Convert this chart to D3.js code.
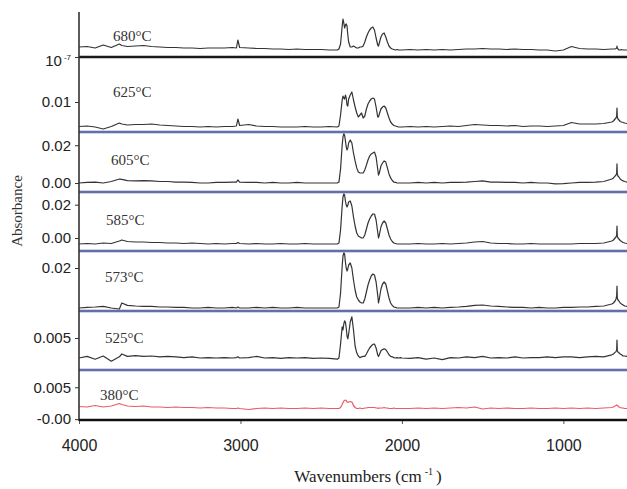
<!DOCTYPE html>
<html>
<head>
<meta charset="utf-8">
<script src="https://cdn.jsdelivr.net/npm/d3@7"></script>
<style>
  html, body { margin: 0; padding: 0; background: #ffffff; }
  svg { display: block; }
</style>
</head>
<body>
<svg id="chart" width="627" height="489"></svg>
<script>
// FTIR spectra of the evolved gas at several temperatures.
// Absorbance values are stored in milli-absorbance units (1 = 0.001).

const wavenumbers = [
  4000,3950,3900,3850,3800,3750,3735,3700,3650,3600,
  3550,3500,3450,3400,3350,3300,3250,3200,3150,3100,
  3050,3025,3016,3005,2950,2900,2850,2800,2750,2700,
  2650,2600,2550,2500,2450,
  2400,2390,2380,2370,2365,2360,2355,2350,2345,2340,
  2335,2330,2320,2310,2300,2290,2280,2270,2260,2250,
  2240,2230,2220,2210,2200,2190,2180,2170,2160,2150,
  2145,2140,2130,2120,2110,2100,2090,2080,2070,2060,
  2050,2040,2030,2020,2010,
  2000,1950,1900,1850,1800,1750,1700,1650,1600,1550,
  1500,1450,1400,1350,1300,1250,1200,1150,1100,1050,
  1000,950,900,850,800,750,700,
  690,680,674,670,668,666,662,656,648,640,
  630,620,606
];

const mA680 = [
  4.0,4.2,3.6,4.8,3.8,5.2,4.6,4.2,4.4,4.6, 4.2,4.0,3.8,3.8,3.6,3.6,3.4,3.6,3.6,3.6,
  3.8,3.6,6.8,3.8,3.6,3.4,3.4,3.2,3.2,3.0, 3.2,3.0,3.0,3.0,2.8,
  2.8,3.2,5.2,12.4,15.2,13.6,11.6,12.8,13.2,12.4, 8.8,6.0,4.0,4.0,4.4,4.0,3.6,3.6,4.0,4.0,
  4.4,6.0,8.0,9.6,10.8,11.6,12.0,10.8,7.6,4.8, 4.4,5.6,8.0,9.2,9.6,8.0,6.0,4.4,3.6,3.2,
  3.0,2.8,3.0,2.8,2.8,
  2.8,3.0,2.8,3.0,2.8,3.0,2.8,3.0,3.2,3.2, 3.4,3.2,3.2,3.0,3.2,3.0,3.0,2.8,2.8,2.4,
  2.8,4.2,3.4,3.2,3.2,3.0,3.2,
  3.2,3.2,3.4,3.6,4.4,3.6,3.2,2.8,2.8,3.0, 2.8,2.8,2.8
];

const mA625 = [
  0.2,0.4,0,-0.8,0.2,1.6,1.2,0.8,1.0,1.0, 1.2,0.8,0.6,0.4,0.2,0.2,0,0.2,0,0.2,
  0.2,0.4,3.2,0.6,1.0,0.4,0.2,0.2,0,0, 0,0.2,0,0,0.2,
  0,0.4,4.8,10.8,12.4,11.6,11.2,12.8,11.6,8.8, 8.4,11.2,12.8,14.0,10.8,8.0,5.6,4.0,4.8,5.6,
  3.6,4.4,7.2,9.2,10.4,11.2,11.6,11.2,8.0,4.0, 4.0,5.2,7.2,8.0,8.4,7.6,5.6,3.6,2.0,1.2,
  0.6,0.4,0.2,0,0,
  0,0.2,0,0.2,0,0.2,0.4,0.2,0.6,1.0, 0.8,0.6,0.6,0.4,0.6,0.2,0.4,0.4,0.2,0.4,
  0.6,1.8,1.2,1.2,1.2,1.4,2.0,
  2.4,3.2,3.6,4.4,7.6,4.0,3.2,2.8,2.2,2.0, 1.8,1.6,1.4
];

const mA605 = [
  0,0.3,0.5,0,0.8,2.1,1.9,1.3,1.1,1.3, 1.1,0.8,0.8,0.5,0.5,0.3,0,0,0.3,0.3,
  0.5,0.5,1.6,0.5,0.3,0.3,0,0.3,0,0, 0.3,0,0,0,0,
  0,0.5,7.4,20.1,24.4,26.0,25.4,22.3,19.1,17.5, 18.6,21.2,22.8,21.2,15.9,11.7,8.0,5.8,5.3,5.3,
  5.3,6.9,9.5,12.2,14.3,15.4,15.9,16.4,13.8,7.4, 4.2,5.3,9.0,10.6,11.7,11.1,8.0,4.8,2.7,1.3,
  0.5,0.3,0,0,0,
  0,0,0.3,0,0.3,0,0.3,0.3,0.5,0.8, 1.1,0.5,0.5,0.3,0.3,0,0.3,0,0,-0.5,
  -0.3,0,0.3,0.3,0.5,0.8,2.1,
  2.7,3.7,4.2,5.3,10.1,4.8,3.7,3.2,2.1,1.6, 1.1,0.8,0.5
];

const mA585 = [
  -3.6,-3.3,-3.6,-3.0,-3.3,-1.8,-1.2,-2.1,-2.4,-2.4, -2.7,-2.7,-3.0,-3.0,-3.3,-3.0,-3.3,-3.6,-3.3,-3.6,
  -3.3,-3.3,-2.7,-3.3,-3.6,-3.3,-3.6,-3.6,-3.3,-3.6, -3.6,-3.3,-3.6,-3.6,-3.6,
  -3.6,-3.0,4.8,19.2,24.6,26.4,25.8,22.2,19.8,18.6, 19.8,21.6,22.2,19.2,12.6,7.2,3.0,1.2,0.6,0,
  0,1.8,5.4,9.0,11.4,13.2,14.4,14.4,10.8,3.6, 0,1.8,6.6,9.0,10.2,9.0,5.4,1.8,-0.6,-2.1,
  -3.0,-3.3,-3.6,-3.6,-3.6,
  -3.6,-3.6,-3.3,-3.6,-3.6,-3.3,-3.6,-3.3,-3.0,-2.4, -2.1,-3.0,-3.3,-3.3,-3.6,-3.6,-3.3,-3.6,-3.6,-3.6,
  -3.6,-3.6,-3.3,-3.3,-3.3,-3.0,-1.8,
  -1.2,0,0.6,1.8,7.2,1.2,0,-0.6,-1.5,-2.1, -2.7,-3.0,-3.3
];

const mA573 = [
  0,0.3,0.5,0.8,0,-0.5,2.5,1.3,1.0,0.8, 0.8,0.5,0.5,0.3,0.3,0,0,0.3,0,0,
  0.3,0,0.5,0,0,0.3,0,0.3,0,0, 0.3,0,0,0,0,
  0,0.5,7.5,21.0,26.0,27.5,27.0,23.0,20.0,18.5, 19.5,21.5,22.5,20.0,14.0,9.0,5.5,4.0,3.0,2.5,
  2.5,4.5,8.0,11.5,14.0,16.0,17.0,16.5,13.0,6.5, 2.5,4.5,9.5,12.0,13.0,12.0,8.5,5.0,2.5,1.3,
  0.5,0.3,0,0,0,
  0,0,0.3,0,0.3,0,0.3,0.5,0.8,1.3, 1.5,1.0,0.8,0.5,0.3,0.3,0,0.3,0,0,
  0.3,0.3,0.5,0.5,0.8,1.0,2.0,
  2.5,3.5,4.5,6.0,11.0,5.0,4.0,3.5,2.5,2.0, 1.5,1.0,0.8
];

const mA525 = [
  0,0.4,-0.3,0.5,-0.8,0.3,1.0,0.4,0.6,0.4, 0.5,0.3,0.4,0.3,0.1,0.3,0,0.1,0,0.1,
  0,0.1,0.3,0,0.1,0.4,0,0.1,-0.1,0.1, 0,0.1,-0.1,0,-0.1,
  -0.3,0,3.5,7.8,7.0,8.5,9.3,9.0,7.5,5.5, 4.8,6.0,9.0,10.3,7.0,3.0,1.3,0.5,0.1,0.3,
  0.4,0.4,1.0,1.8,2.5,3.0,3.4,3.5,2.5,0.8, 0.4,0.8,1.8,2.1,2.3,2.1,1.5,0.8,0.4,0.3,
  0.1,0,0.1,0,0.1,
  0,-0.1,0.1,-0.3,0,-0.4,0.1,0,0.3,0.1, 0.4,0,0.1,0,0.3,0,0.1,0.1,0.3,0.1,
  0.3,0.3,0.1,0.3,0.4,0.3,0.8,
  1.0,1.4,1.6,2.0,4.5,1.8,1.5,1.3,1.0,0.8, 0.5,0.5,0.4
];

const mA380 = [
  1.92,1.84,2.08,1.84,2.0,2.4,2.24,2.0,1.92,2.0, 1.84,1.84,1.76,1.84,1.76,1.76,1.68,1.76,1.68,1.68,
  1.6,1.6,1.68,1.6,1.44,1.6,1.68,1.6,1.68,1.6, 1.6,1.68,1.6,1.68,1.6,
  1.6,1.6,1.76,2.24,2.56,2.8,2.88,2.96,2.88,2.64, 2.56,2.64,2.72,2.64,2.08,1.76,1.6,1.6,1.68,1.6,
  1.6,1.68,1.68,1.76,1.76,1.76,1.76,1.76,1.68,1.68, 1.6,1.68,1.68,1.68,1.76,1.68,1.68,1.6,1.6,1.6,
  1.68,1.6,1.6,1.6,1.6,
  1.6,1.6,1.68,1.6,1.68,1.6,1.68,1.76,1.68,1.84, 1.52,1.68,1.6,1.68,1.6,1.6,1.68,1.6,1.6,1.68,
  1.6,1.68,1.6,1.68,1.6,1.68,1.76,
  1.84,2.0,2.08,2.16,2.16,2.08,2.0,1.84,1.76,1.68, 1.68,1.6,1.6
];

const temperatures = ["680°C", "625°C", "605°C", "585°C", "573°C", "525°C", "380°C"];

// y tick values (milli-absorbance) and their printed labels, one list per panel
const yTicks680 = [0.0001], yTickLabels680 = ["10^-7"];
const yTicks625 = [10],     yTickLabels625 = ["0.01"];
const yTicks605 = [0, 20],  yTickLabels605 = ["0.00", "0.02"];
const yTicks585 = [0, 20],  yTickLabels585 = ["0.00", "0.02"];
const yTicks573 = [20],     yTickLabels573 = ["0.02"];
const yTicks525 = [5],      yTickLabels525 = ["0.005"];
const yTicks380 = [-0.1, 5], yTickLabels380 = ["-0.00", "0.005"];

const xTicks = [4000, 3000, 2000, 1000];

// ---------------------------------------------------------------- layout
const left = 79, right = 627;
const svg = d3.select("#chart");

const x = d3.scaleLinear().domain([4000, 606]).range([left, right]);

const panels = [
  { name: temperatures[0], values: mA680, top: 12,  bottom: 57,  domain: [0, 18],        ticks: yTicks680, labels: yTickLabels680, color: "#333333", lx: 113, ly: 41 },
  { name: temperatures[1], values: mA625, top: 57,  bottom: 132, domain: [-2, 28],       ticks: yTicks625, labels: yTickLabels625, color: "#333333", lx: 113, ly: 97 },
  { name: temperatures[2], values: mA605, top: 132, bottom: 192, domain: [-4.77, 27.03], ticks: yTicks605, labels: yTickLabels605, color: "#333333", lx: 111, ly: 165 },
  { name: temperatures[3], values: mA585, top: 192, bottom: 251, domain: [-7.8, 27.6],   ticks: yTicks585, labels: yTickLabels585, color: "#333333", lx: 106, ly: 225 },
  { name: temperatures[4], values: mA573, top: 251, bottom: 311, domain: [-1.5, 28.5],   ticks: yTicks573, labels: yTickLabels573, color: "#333333", lx: 105, ly: 282 },
  { name: temperatures[5], values: mA525, top: 311, bottom: 370, domain: [-3, 11.75],    ticks: yTicks525, labels: yTickLabels525, color: "#333333", lx: 105, ly: 343 },
  { name: temperatures[6], values: mA380, top: 370, bottom: 420, domain: [-0.24, 7.76],  ticks: yTicks380, labels: yTickLabels380, color: "#ec5a62", lx: 100, ly: 400 }
];

panels.forEach(p => {
  if (p.values.length !== wavenumbers.length) throw new Error(p.name + " length " + p.values.length);
});

const sansFont = "'Liberation Sans', Arial, sans-serif";
const serifFont = "'Liberation Serif', 'Times New Roman', serif";

// separators between stacked panels
panels.slice(0, -1).forEach((p, i) => {
  const sep = (stroke, width) => svg.append("line")
    .attr("x1", left).attr("x2", right).attr("y1", p.bottom).attr("y2", p.bottom)
    .attr("stroke", stroke).attr("stroke-width", width);
  if (i === 0) {
    sep("#8a8a8a", 3.2);
    sep("#1a1a1a", 1.8);
  } else {
    sep("#a3aad0", 3);
    sep("#4f5b9c", 1.4);
  }
});

panels.forEach(p => {
  const y = d3.scaleLinear().domain(p.domain).range([p.bottom, p.top]);
  const line = d3.line()
    .x((d, i) => x(wavenumbers[i]))
    .y(d => y(d))
    .curve(d3.curveLinear);

  svg.append("path")
    .datum(p.values)
    .attr("d", line)
    .attr("fill", "none")
    .attr("stroke", p.color)
    .attr("stroke-width", 1.2)
    .attr("stroke-linejoin", "round");

  // y axis for this panel
  const ax = svg.append("g")
    .attr("transform", `translate(${left},0)`)
    .call(d3.axisLeft(y).tickValues(p.ticks).tickSize(4).tickPadding(4).tickFormat((d, i) => p.labels[i]));
  ax.select(".domain").remove();
  ax.selectAll(".tick line").attr("stroke", "#333");
  ax.selectAll(".tick text")
    .attr("font-family", sansFont)
    .attr("font-size", 15)
    .attr("fill", "#222")
    .each(function(d, i) {
      const lab = p.labels[i];
      if (lab.includes("^")) {
        const [base, exp] = lab.split("^");
        const t = d3.select(this).text(null).attr("dy", "0.55em");
        t.append("tspan").text(base);
        t.append("tspan").attr("dy", "-0.75em").attr("dx", "2").attr("font-size", 8).text(exp);
      }
    });

  // temperature label
  svg.append("text")
    .attr("x", p.lx).attr("y", p.ly)
    .attr("font-family", serifFont)
    .attr("font-size", 15)
    .attr("fill", "#333")
    .text(p.name);
});

// left axis line
svg.append("line").attr("x1", left).attr("x2", left).attr("y1", 12).attr("y2", 421)
  .attr("stroke", "#333").attr("stroke-width", 1.6);

// bottom axis
const xAxis = svg.append("g")
  .attr("transform", "translate(0,421)")
  .call(d3.axisBottom(x).tickValues(xTicks).tickSize(3).tickPadding(16).tickFormat(d3.format("d")));
xAxis.select(".domain").remove();
xAxis.selectAll(".tick line").attr("stroke", "#555");
xAxis.selectAll(".tick text")
  .attr("font-family", sansFont)
  .attr("font-size", 16)
  .attr("fill", "#222");

svg.append("line").attr("x1", left).attr("x2", right).attr("y1", 420).attr("y2", 420)
  .attr("stroke", "#111").attr("stroke-width", 2.6);

// axis titles
const xt = svg.append("text")
  .attr("x", 368).attr("y", 482)
  .attr("text-anchor", "middle")
  .attr("font-family", serifFont)
  .attr("font-size", 17)
  .attr("fill", "#222");
xt.append("tspan").text("Wavenumbers (cm");
xt.append("tspan").attr("font-size", 10).attr("dy", "-7").attr("dx", "3").text("-1");
xt.append("tspan").attr("dy", "7").attr("dx", "3").text(")");

svg.append("text")
  .attr("transform", "translate(22,211) rotate(-90)")
  .attr("text-anchor", "middle")
  .attr("font-family", serifFont)
  .attr("font-size", 15)
  .attr("fill", "#333")
  .text("Absorbance");
</script>
</body>
</html>
